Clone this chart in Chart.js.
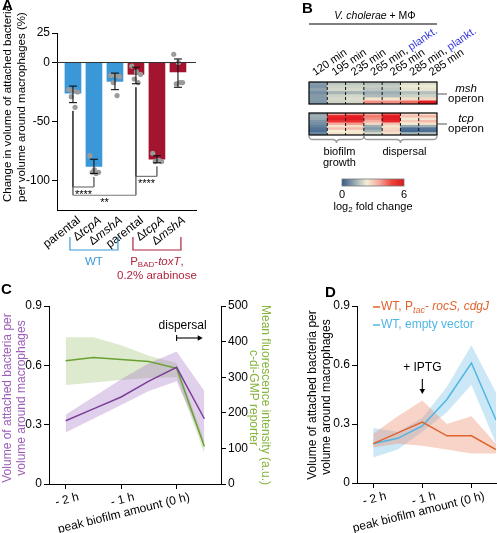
<!DOCTYPE html>
<html>
<head>
<meta charset="utf-8">
<script src="https://cdn.jsdelivr.net/npm/chart.js@4.4.1/dist/chart.umd.min.js"></script>
<style>
  body { margin: 0; width: 497px; height: 533px; background: #fff; position: relative; overflow: hidden; font-family: "Liberation Sans", Arial, sans-serif; }
  canvas { position: absolute; }
  .tag { position: absolute; font-weight: bold; font-size: 15px; line-height: 15px; }
</style>
</head>
<body>
<canvas id="chartA" width="250" height="290" style="left:0;top:0"></canvas>
<canvas id="chartMsh" width="247" height="110" style="left:250px;top:0"></canvas>
<canvas id="chartTcp" width="247" height="125" style="left:250px;top:105px"></canvas>
<canvas id="chartC" width="275" height="243" style="left:0;top:290px"></canvas>
<canvas id="chartD" width="222" height="243" style="left:275px;top:290px"></canvas>
<div class="tag" style="left:2px;top:-3px">A</div>
<div class="tag" style="left:302px;top:0px">B</div>
<div class="tag" style="left:1px;top:281px">C</div>
<div class="tag" style="left:325px;top:284px">D</div>

<script>
/* ===================== DATA ===================== */
// panel A
const aLabels = ['parental', 'ΔtcpA', 'ΔmshA', 'parental', 'ΔtcpA', 'ΔmshA'];
const aMeans = [-26, -88, -16, -10, -82, -8];
const aErrLow = [-34, -94, -23, -18, -85, -21];
const aErrHigh = [-20, -82, -9, -4, -79, 3];
const aDots = [
  [-23, -24, -25, -29, -38],
  [-79, -91, -93, -93, -94],
  [-11, -11, -12, -17, -28],
  [-3, -8, -10, -14, -17],
  [-77, -83, -84, -84, -83],
  [7, 0, -17, -18, -17]
];
const aTicks = [-100, -50, 0, 25];
const aSig = [[0, 1, '****'], [3, 4, '****'], [0, 3, '**']];

// panel B
const bColumns = ['120 min', '195 min', '235 min', '265 min, plankt.', '265 min', '285 min, plankt.', '285 min'];
const mshRows = [
  [1.0, 1.7, 1.7, 1.6, 1.6, 2.1, 2.1],
  [0.9, 1.9, 1.9, 1.8, 1.8, 2.3, 2.3],
  [1.1, 2.0, 2.0, 1.7, 1.7, 2.2, 2.2],
  [0.8, 1.4, 1.4, 1.3, 1.3, 1.6, 1.6],
  [1.0, 1.9, 2.0, 1.5, 1.5, 1.9, 1.9],
  [1.0, 2.0, 2.1, 2.6, 2.6, 2.7, 2.8],
  [0.9, 1.9, 2.0, 3.9, 3.9, 4.3, 5.9]
];
const tcpRows = [
  [1.1, 3.8, 4.0, 3.6, 4.6, 2.8, 2.6],
  [1.3, 5.6, 5.8, 4.2, 5.9, 3.2, 3.4],
  [1.2, 5.8, 5.9, 3.9, 5.8, 2.5, 2.6],
  [0.9, 5.2, 5.4, 3.5, 5.6, 3.0, 3.3],
  [0.8, 3.6, 3.8, 2.8, 3.2, 2.4, 2.6],
  [0.6, 2.6, 2.7, 1.3, 2.6, 1.2, 1.3],
  [0.4, 3.2, 3.3, 1.0, 2.8, 0.3, 0.4],
  [0.3, 2.4, 2.5, 1.4, 2.9, 0.2, 0.3],
  [0.7, 2.6, 2.6, 2.0, 2.6, 1.4, 1.6]
];

// panel C
const cHours = [-2, -1.5, -1, -0.5, 0, 0.5];
const cVolMean = [0.32, 0.38, 0.44, 0.52, 0.59, 0.33];
const cVolLow = [0.26, 0.33, 0.40, 0.47, 0.52, 0.20];
const cVolHigh = [0.35, 0.44, 0.53, 0.61, 0.67, 0.47];
const cFluMean = [346, 355, 350, 344, 325, 105];
const cFluLow = [278, 285, 292, 298, 300, 86];
const cFluHigh = [412, 412, 390, 360, 340, 120];

// panel D
const dHours = [-2, -1.5, -1, -0.5, 0, 0.5];
const dRocMean = [0.20, 0.255, 0.31, 0.24, 0.24, 0.17];
const dRocLow = [0.18, 0.20, 0.19, 0.17, 0.15, 0.15];
const dRocHigh = [0.25, 0.34, 0.42, 0.30, 0.34, 0.20];
const dEmptyMean = [0.20, 0.227, 0.29, 0.425, 0.61, 0.32];
const dEmptyLow = [0.13, 0.17, 0.26, 0.36, 0.50, 0.20];
const dEmptyHigh = [0.28, 0.26, 0.33, 0.49, 0.70, 0.46];

const hourTicks = [-2, -1, 0];
const hourLabels = ['- 2 h', '- 1 h', 'peak biofilm amount (0 h)'];
const fracTicks = [0, 0.3, 0.6, 0.9];
const fluTicks = [0, 100, 200, 300, 400, 500];

/* ===================== STYLE ===================== */
const FONT = '"Liberation Sans", Arial, Helvetica, sans-serif';
Chart.defaults.font.family = FONT;
Chart.defaults.color = '#000';
const tickFont = { family: FONT, size: 12 };

const BAR_BLUE = '#3a98d8', BAR_RED = '#a3142f';
const TXT_BLUE = '#3a9ad9', TXT_RED = '#b0253f';
const PURPLE = '#7b3f98', PURPLE_T = '#9c5cb8', PURPLE_BAND = 'rgba(160,110,195,0.32)';
const GREEN = '#6aa032', GREEN_T = '#85b43c', GREEN_BAND = 'rgba(150,190,100,0.32)';
const ORANGE = '#e0632e', ORANGE_BAND = 'rgba(235,140,110,0.38)';
const SKY = '#4fb6e4', SKY_BAND = 'rgba(120,195,235,0.38)';

/* ===================== HELPERS ===================== */
function seg(ctx, x1, y1, x2, y2, color = '#000', w = 1, dash = []) {
  ctx.save();
  ctx.strokeStyle = color; ctx.lineWidth = w; ctx.setLineDash(dash);
  ctx.beginPath(); ctx.moveTo(x1, y1); ctx.lineTo(x2, y2); ctx.stroke();
  ctx.restore();
}

function arrowHead(ctx, x, y, dir, size = 5, color = '#000') {
  ctx.save();
  ctx.translate(x, y); ctx.rotate(dir); ctx.fillStyle = color;
  ctx.beginPath(); ctx.moveTo(0, 0); ctx.lineTo(-size, -size * 0.55); ctx.lineTo(-size, size * 0.55);
  ctx.closePath(); ctx.fill();
  ctx.restore();
}

// text with mixed italic / subscript / colour pieces
function rich(ctx, parts, x, y, o = {}) {
  const size = o.size || 12;
  const list = (Array.isArray(parts) ? parts : [parts]).map(p => typeof p === 'string' ? { t: p } : p);
  const fontOf = p => `${p.i ? 'italic ' : ''}${p.sub ? Math.round(size * 0.72) : size}px ${FONT}`;
  ctx.save();
  ctx.translate(x, y);
  if (o.rot) ctx.rotate(o.rot * Math.PI / 180);
  ctx.textAlign = 'left';
  ctx.textBaseline = o.base || 'middle';
  let w = 0;
  list.forEach(p => { ctx.font = fontOf(p); p.w = ctx.measureText(p.t).width; w += p.w; });
  let cx = o.align === 'center' ? -w / 2 : o.align === 'right' ? -w : 0;
  list.forEach(p => {
    ctx.font = fontOf(p);
    ctx.fillStyle = p.c || o.color || '#000';
    ctx.fillText(p.t, cx, p.sub ? size * 0.28 : 0);
    cx += p.w;
  });
  ctx.restore();
}

function valueAxis(ticks, width, extra = {}) {
  return Object.assign({
    min: ticks[0], max: ticks[ticks.length - 1],
    afterBuildTicks: s => { s.ticks = ticks.map(v => ({ value: v })); },
    ticks: { font: tickFont, color: '#000', padding: 2 },
    grid: { drawOnChartArea: false, tickLength: 5, color: '#000' },
    border: { color: '#000' },
    afterFit: s => { s.width = width; }
  }, extra);
}

function hourAxis(min, max, height) {
  return {
    type: 'linear', min, max, offset: false,
    afterBuildTicks: s => { s.ticks = hourTicks.map(v => ({ value: v })); },
    ticks: { font: tickFont, color: '#000', autoSkip: false, minRotation: 14, maxRotation: 14, padding: 1,
             labelOffset: 13, callback: (v, i) => hourLabels[i] },
    grid: { drawOnChartArea: false, tickLength: 5, color: '#000' },
    border: { color: '#000' },
    afterFit: s => { s.height = height; }
  };
}

const pts = (xs, ys) => xs.map((v, i) => ({ x: v, y: ys[i] }));
const fracFmt = v => v === 0 ? '0' : v.toFixed(1);

function lineSet(xs, ys, color, axis = 'y') {
  return { type: 'line', data: pts(xs, ys), yAxisID: axis, borderColor: color, borderWidth: 1.5, pointRadius: 0, fill: false, tension: 0 };
}
function bandSets(xs, hi, lo, color, axis = 'y') {
  return [
    { type: 'line', data: pts(xs, hi), yAxisID: axis, borderColor: 'transparent', borderWidth: 0, pointRadius: 0, fill: '+1', backgroundColor: color },
    { type: 'line', data: pts(xs, lo), yAxisID: axis, borderColor: 'transparent', borderWidth: 0, pointRadius: 0, fill: false }
  ];
}

const baseOpts = { responsive: false, animation: false, events: [],
  plugins: { legend: { display: false }, tooltip: { enabled: false } } };

/* ===================== PANEL A ===================== */
const aSigLevels = [-105.5, -96.5, -112.5];
const jitter = [-0.2, 0.02, 0.22, -0.08, 0.1];

const aDeco = {
  id: 'aDeco',
  afterDatasetsDraw(chart) {
    const { ctx, chartArea: ca, scales: { x, y } } = chart;
    const y0 = y.getPixelForValue(0);
    seg(ctx, ca.left, y0, ca.right, y0, '#333', 1);
    aMeans.forEach((m, i) => {
      const px = x.getPixelForValue(i);
      const lo = y.getPixelForValue(aErrLow[i]), hi = y.getPixelForValue(aErrHigh[i]);
      seg(ctx, px, lo, px, hi, '#111', 1.1);
      seg(ctx, px - 4, lo, px + 4, lo, '#111', 1.1);
      seg(ctx, px - 4, hi, px + 4, hi, '#111', 1.1);
    });
    aSig.forEach(([i, j, label], k) => {
      const lvl = y.getPixelForValue(aSigLevels[k]);
      const xi = x.getPixelForValue(i), xj = x.getPixelForValue(j);
      [i, j].forEach(b => {
        const top = y.getPixelForValue(Math.min(aErrLow[b], ...aDots[b]) - 3);
        seg(ctx, x.getPixelForValue(b), top, x.getPixelForValue(b), lvl, '#222', 1);
      });
      seg(ctx, xi, lvl, xj, lvl, '#777', 1.2);
      rich(ctx, label, (xi + xj) / 2, lvl + 2, { align: 'center', base: 'top', size: 11 });
    });
  },
  afterDraw(chart) {
    const { ctx, chartArea: ca, scales: { x } } = chart;
    aLabels.forEach((lab, i) => {
      const parts = lab.startsWith('Δ') ? ['Δ', { t: lab.slice(1), i: 1 }] : [lab];
      rich(ctx, parts, x.getPixelForValue(i) + 6, ca.bottom + 9, { align: 'right', rot: -38 });
    });
    // genotype groups
    const groups = [
      { from: 0, to: 2, color: TXT_BLUE, lines: [['WT']] },
      { from: 3, to: 5, color: TXT_RED, lines: [['P', { t: 'BAD', sub: 1 }, '-', { t: 'toxT', i: 1 }, ','], ['0.2% arabinose']] }
    ];
    groups.forEach(g => {
      const x1 = x.getPixelForValue(g.from) - 3, x2 = x.getPixelForValue(g.to) + 3;
      ctx.save();
      ctx.strokeStyle = g.color; ctx.lineWidth = 1.2;
      ctx.beginPath(); ctx.moveTo(x1, 237); ctx.lineTo(x1, 250); ctx.lineTo(x2, 250); ctx.lineTo(x2, 237); ctx.stroke();
      ctx.restore();
      g.lines.forEach((ln, k) => rich(ctx, ln, (x1 + x2) / 2, 262 + k * 14, { align: 'center', color: g.color, size: 11.5 }));
    });
    rich(ctx, 'Change in volume of attached bacteria', 8, 202, { rot: -90, size: 11.5 });
    rich(ctx, 'per volume around macrophages (%)', 22, 202, { rot: -90, size: 11.5 });
  }
};

new Chart(document.getElementById('chartA'), {
  data: {
    datasets: [
      { type: 'scatter', data: aDots.flatMap((d, i) => d.map((v, j) => ({ x: i + jitter[j], y: v }))),
        pointRadius: 2.6, pointBackgroundColor: '#9b9b9b', pointBorderWidth: 0 },
      { type: 'bar', data: aMeans.map((v, i) => ({ x: i, y: v })),
        backgroundColor: aMeans.map((v, i) => i < 3 ? BAR_BLUE : BAR_RED), barThickness: 16 }
    ]
  },
  options: Object.assign({}, baseOpts, {
    layout: { padding: { left: 0, top: 33, right: 54, bottom: 0 } },
    scales: {
      x: { type: 'linear', min: -0.76, max: 5.86, offset: false, ticks: { display: false }, grid: { display: false, offset: false },
           border: { color: '#000' }, afterFit: s => { s.height = 80; } },
      y: valueAxis(aTicks, 57, { min: -125, max: 25 })
    }
  }),
  plugins: [aDeco]
});

/* ===================== PANEL B ===================== */
const heatStops = [[0, [52, 92, 138]], [1.2, [150, 168, 176]], [2.4, [243, 240, 214]], [3.6, [246, 168, 158]], [4.8, [236, 68, 58]], [6, [224, 22, 32]]];
function heatColor(v) {
  v = Math.max(0, Math.min(6, v));
  for (let k = 1; k < heatStops.length; k++) {
    const [v0, c0] = heatStops[k - 1], [v1, c1] = heatStops[k];
    if (v <= v1) {
      const t = (v - v0) / (v1 - v0);
      return `rgb(${c0.map((c, j) => Math.round(c + (c1[j] - c) * t)).join(',')})`;
    }
  }
}

function gridLines(ctx, ca, x) {
  for (let i = 0; i < bColumns.length - 1; i++) {
    const bx = (x.getPixelForValue(i) + x.getPixelForValue(i + 1)) / 2;
    seg(ctx, bx, ca.top, bx, ca.bottom, '#111', 1, [3, 2]);
  }
  ctx.save(); ctx.strokeStyle = '#000'; ctx.lineWidth = 1.2;
  ctx.strokeRect(ca.left, ca.top, ca.right - ca.left, ca.bottom - ca.top);
  ctx.restore();
}

function brace(ctx, x1, x2, y, h) {
  const m = (x1 + x2) / 2, r = 4;
  ctx.save(); ctx.strokeStyle = '#9a9a9a'; ctx.lineWidth = 1.3;
  ctx.beginPath();
  ctx.moveTo(x1, y);
  ctx.quadraticCurveTo(x1, y + h / 2, x1 + r, y + h / 2);
  ctx.lineTo(m - r, y + h / 2);
  ctx.quadraticCurveTo(m, y + h / 2, m, y + h);
  ctx.quadraticCurveTo(m, y + h / 2, m + r, y + h / 2);
  ctx.lineTo(x2 - r, y + h / 2);
  ctx.quadraticCurveTo(x2, y + h / 2, x2, y);
  ctx.stroke();
  ctx.restore();
}

function heatChart(id, rows, pad, deco) {
  return new Chart(document.getElementById(id), {
    type: 'bar',
    data: {
      labels: bColumns,
      datasets: rows.slice().reverse().map(r => ({
        data: r.map(() => 1),
        backgroundColor: r.map(heatColor),
        barPercentage: 1, categoryPercentage: 1, borderWidth: 0
      }))
    },
    options: Object.assign({}, baseOpts, {
      layout: { padding: pad },
      scales: {
        x: { stacked: true, display: false },
        y: { stacked: true, display: false, min: 0, max: rows.length }
      }
    }),
    plugins: [deco]
  });
}

heatChart('chartMsh', mshRows, { left: 59, right: 60, top: 82, bottom: 6 }, {
  id: 'mshDeco',
  afterDraw(chart) {
    const { ctx, chartArea: ca, scales: { x } } = chart;
    gridLines(ctx, ca, x);
    rich(ctx, [{ t: 'V. cholerae', i: 1 }, ' + MΦ'], (ca.left + ca.right) / 2 + 2, 16, { align: 'center', size: 10.5 });
    seg(ctx, ca.left, 24, ca.right, 24, '#000', 1.2);
    bColumns.forEach((lab, i) => {
      const k = lab.indexOf('plankt.');
      const parts = k < 0 ? [lab] : [lab.slice(0, k), { t: 'plankt.', c: '#3535e0' }];
      rich(ctx, parts, x.getPixelForValue(i) - 3 + i * 1.2, ca.top - 6, { rot: -34, base: 'alphabetic', size: 11 });
    });
    seg(ctx, ca.right, 94, ca.right + 10, 94, '#555', 1);
    rich(ctx, { t: 'msh', i: 1 }, 216, 89, { align: 'center', size: 11.5 });
    rich(ctx, 'operon', 216, 99, { align: 'center', size: 11.5 });
  }
});

heatChart('chartTcp', tcpRows, { left: 59, right: 60, top: 8, bottom: 95 }, {
  id: 'tcpDeco',
  afterDraw(chart) {
    const { ctx, chartArea: ca, scales: { x } } = chart;
    gridLines(ctx, ca, x);
    seg(ctx, ca.right, 19, ca.right + 10, 19, '#555', 1);
    rich(ctx, { t: 'tcp', i: 1 }, 216, 14, { align: 'center', size: 11.5 });
    rich(ctx, 'operon', 216, 24, { align: 'center', size: 11.5 });
    const split = (x.getPixelForValue(2) + x.getPixelForValue(3)) / 2;
    brace(ctx, ca.left, split, ca.bottom + 1, 7);
    brace(ctx, split, ca.right, ca.bottom + 1, 7);
    rich(ctx, 'biofilm', (ca.left + split) / 2 + 3, 47, { align: 'center', size: 11 });
    rich(ctx, 'growth', (ca.left + split) / 2 + 3, 58, { align: 'center', size: 11 });
    rich(ctx, 'dispersal', (split + ca.right) / 2 + 4, 47, { align: 'center', size: 11 });
    // colour scale
    const cx = (ca.left + ca.right) / 2, w = 62, x0 = cx - w / 2;
    const g = ctx.createLinearGradient(x0, 0, x0 + w, 0);
    heatStops.forEach(([v]) => g.addColorStop(v / 6, heatColor(v)));
    ctx.save();
    ctx.fillStyle = g; ctx.fillRect(x0, 74, w, 7);
    ctx.strokeStyle = '#777'; ctx.lineWidth = 0.8; ctx.strokeRect(x0, 74, w, 7);
    ctx.restore();
    rich(ctx, '0', x0, 90, { align: 'center', size: 11 });
    rich(ctx, '6', x0 + w, 90, { align: 'center', size: 11 });
    rich(ctx, ['log', { t: '2', sub: 1 }, ' fold change'], cx, 102, { align: 'center', size: 11 });
  }
});

/* ===================== PANEL C ===================== */
new Chart(document.getElementById('chartC'), {
  data: {
    datasets: [
      lineSet(cHours, cVolMean, PURPLE),
      lineSet(cHours, cFluMean, GREEN, 'y1'),
      ...bandSets(cHours, cVolHigh, cVolLow, PURPLE_BAND),
      ...bandSets(cHours, cFluHigh, cFluLow, GREEN_BAND, 'y1')
    ]
  },
  options: Object.assign({}, baseOpts, {
    layout: { padding: { left: 0, top: 16, right: 0, bottom: 0 } },
    scales: {
      x: hourAxis(-2.3, 0.8, 49),
      y: valueAxis(fracTicks, 49, { position: 'left', ticks: { font: tickFont, color: '#000', padding: 2, callback: fracFmt } }),
      y1: valueAxis(fluTicks, 54, { position: 'right' })
    }
  }),
  plugins: [{
    id: 'cDeco',
    afterDraw(chart) {
      const { ctx, scales: { x } } = chart;
      rich(ctx, 'Volume of attached bacteria per', 8, 108, { rot: -90, align: 'center', color: PURPLE_T });
      rich(ctx, 'volume around macrophages', 22, 108, { rot: -90, align: 'center', color: PURPLE_T });
      rich(ctx, 'Mean fluorescence intensity (a.u.)', 265, 105, { rot: 90, align: 'center', color: GREEN_T });
      rich(ctx, 'c-di-GMP reporter', 253, 108, { rot: 90, align: 'center', color: GREEN_T });
      const x0 = x.getPixelForValue(0), x1 = x.getPixelForValue(0.47);
      rich(ctx, 'dispersal', x0 + 6, 36, { align: 'center' });
      seg(ctx, x0, 48, x1 - 3, 48, '#000', 1.1);
      seg(ctx, x0, 45, x0, 51, '#000', 1.1);
      arrowHead(ctx, x1, 48, 0);
    }
  }]
});

/* ===================== PANEL D ===================== */
new Chart(document.getElementById('chartD'), {
  data: {
    datasets: [
      lineSet(dHours, dRocMean, ORANGE),
      lineSet(dHours, dEmptyMean, SKY),
      ...bandSets(dHours, dRocHigh, dRocLow, ORANGE_BAND),
      ...bandSets(dHours, dEmptyHigh, dEmptyLow, SKY_BAND)
    ]
  },
  options: Object.assign({}, baseOpts, {
    layout: { padding: { left: 0, top: 16, right: 1, bottom: 0 } },
    scales: {
      x: hourAxis(-2.33, 0.5, 50),
      y: valueAxis(fracTicks, 82, { position: 'left', ticks: { font: tickFont, color: '#000', padding: 2, callback: fracFmt } })
    }
  }),
  plugins: [{
    id: 'dDeco',
    afterDraw(chart) {
      const { ctx, scales: { x } } = chart;
      rich(ctx, 'Volume of attached bacteria per', 38, 105, { rot: -90, align: 'center' });
      rich(ctx, 'volume around macrophages', 52, 107, { rot: -90, align: 'center' });
      seg(ctx, 98, 17, 105, 17, ORANGE, 1.5);
      rich(ctx, ['WT, P', { t: 'tac', sub: 1, i: 1 }, '- ', { t: 'rocS, cdgJ', i: 1 }], 106, 17, { color: ORANGE, size: 12 });
      seg(ctx, 98, 35, 105, 35, SKY, 1.5);
      rich(ctx, 'WT, empty vector', 106, 35, { color: SKY, size: 12 });
      const px = x.getPixelForValue(-1);
      rich(ctx, '+ IPTG', px, 78, { align: 'center' });
      seg(ctx, px, 89, px, 100, '#000', 1.1);
      arrowHead(ctx, px, 104, Math.PI / 2);
    }
  }]
});
</script>
</body>
</html>
